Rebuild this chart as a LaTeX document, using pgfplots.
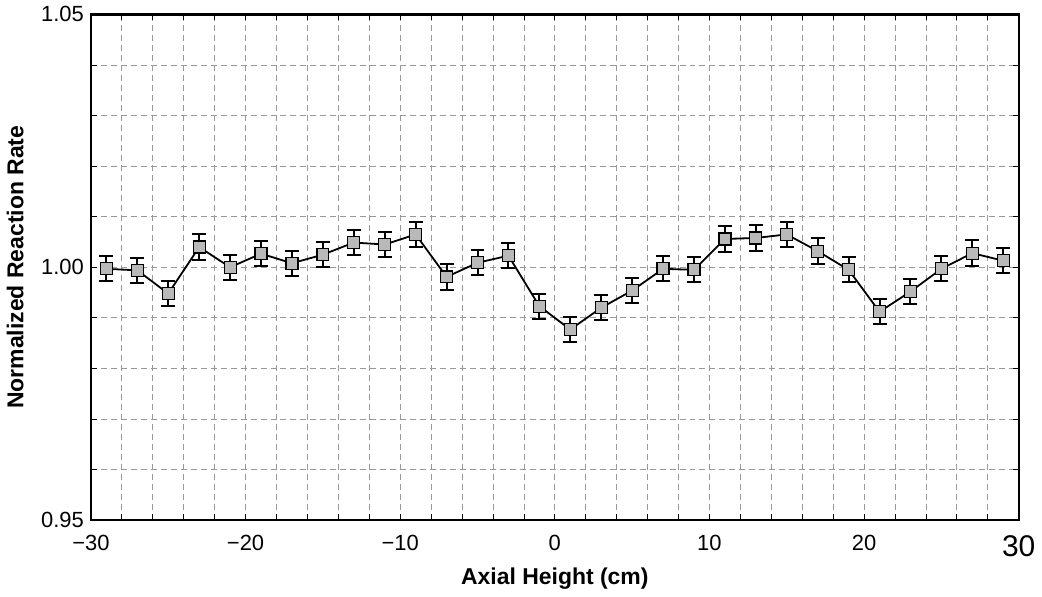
\documentclass[border=0pt]{standalone}
\usepackage{fontspec}
\setmainfont{Liberation Sans}
\usepackage{pgfplots}
\pgfplotsset{compat=1.18}

\pgfplotstableread{
x    y       e
-29  0.9997  0.0025
-27  0.9994  0.0025
-25  0.9948  0.0025
-23  1.0040  0.0025
-21  1.0000  0.0025
-19  1.0027  0.0025
-17  1.0008  0.0025
-15  1.0025  0.0025
-13  1.0049  0.0025
-11  1.0045  0.0025
-9   1.0065  0.0025
-7   0.9981  0.0025
-5   1.0009  0.0025
-3   1.0023  0.0025
-1   0.9923  0.0025
1    0.9877  0.0025
3    0.9920  0.0025
5    0.9954  0.0025
7    0.9997  0.0025
9    0.9995  0.0025
11   1.0056  0.0025
13   1.0058  0.0025
15   1.0065  0.0025
17   1.0032  0.0025
19   0.9995  0.0025
21   0.9912  0.0025
23   0.9952  0.0025
25   0.9997  0.0025
27   1.0028  0.0025
29   1.0013  0.0025
}\rates

\begin{document}
\begin{tikzpicture}
\begin{axis}[
  scale only axis,
  width=465pt, height=253.5pt,
  xmin=-30, xmax=30, ymin=0.95, ymax=1.05,
  xtick={-30,-20,...,30},
  xticklabels={−30,−20,−10,0,10,20,{\fontsize{15}{15}\selectfont 30}},
  minor x tick num=4,
  ytick={0.95,1.00,1.05},
  yticklabels={0.95,1.00,1.05},
  minor ytick={0.96,0.97,0.98,0.99,1.01,1.02,1.03,1.04},
  grid=both,
  major grid style={gray!80, densely dashed, line width=0.4pt},
  minor grid style={gray!80, densely dashed, line width=0.4pt},
  axis line style={black, line width=1.2pt},
  tick style={black, line width=0.4pt},
  major tick length=3pt, minor tick length=3pt,
  tick label style={font=\fontsize{11}{12}\selectfont},
  xticklabel style={yshift=-4pt},
  /pgf/number format/assume math mode=true,
  xlabel={\bfseries Axial Height (cm)},
  ylabel={\bfseries Normalized Reaction Rate},
  label style={font=\fontsize{11.5}{13}\selectfont},
  xlabel style={yshift=1pt},
  ylabel style={yshift=2pt},
]
\addplot[black, line width=0.9pt,
  mark=square*, mark size=3pt,
  mark options={fill=gray!55, draw=black, line width=0.6pt},
  error bars/.cd, y dir=both, y explicit,
  error bar style={black, line width=1pt},
  error mark options={rotate=90, mark size=3.5pt, line width=1pt}]
  table[x=x, y=y, y error=e] {\rates};
\end{axis}
\end{tikzpicture}
\end{document}
